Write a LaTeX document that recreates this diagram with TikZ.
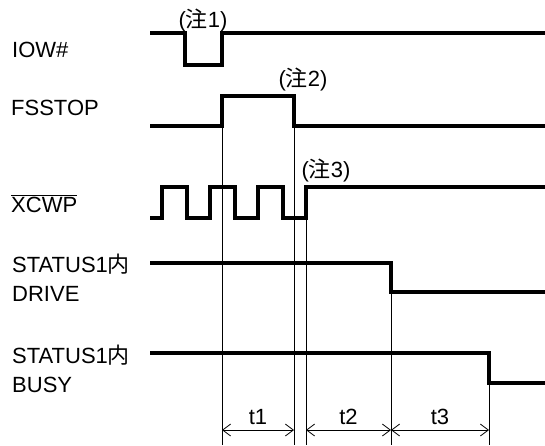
\documentclass[tikz,border=0pt]{standalone}
\usepackage{fontspec}
\setmainfont{Liberation Sans}
\newfontfamily\cjk{Noto Sans CJK JP}
\newcommand{\jp}[1]{{\cjk #1}}
\usetikzlibrary{arrows.meta}

\begin{document}
\begin{tikzpicture}[
    x=1pt, y=-1pt,
    every node/.style={font=\fontsize{22}{25}\selectfont, inner sep=0pt},
    sig/.style={anchor=base west},
    note/.style={anchor=base},
    wave/.style={line width=3.8pt, line join=miter},
    guide/.style={line width=0.8pt},
    span/.style={{Straight Barb[length=8pt,width=12pt]}-{Straight Barb[length=8pt,width=12pt]},
                 line width=0.8pt}
]
    \useasboundingbox (0,0) rectangle (545,445);

    % signal names
    \node[sig] (iow)    at (12,57)  {IOW\#};
    \node[sig] (fsstop) at (11,115) {FSSTOP};
    \node[sig] (xcwp)   at (11,212) {$\overline{\mbox{XCWP}}$};
    \node[sig] (drv1)   at (12,272) {STATUS1\jp{内}};
    \node[sig] (drv2)   at (12,301) {DRIVE};
    \node[sig] (bsy1)   at (12,363) {STATUS1\jp{内}};
    \node[sig] (bsy2)   at (12,392) {BUSY};

    % waveforms
    \draw[wave] (150,33) -- (185,33) -- (185,65) -- (222,65) -- (222,33) -- (545,33);
    \draw[wave] (150,126) -- (222,126) -- (222,96) -- (294,96) -- (294,126) -- (545,126);
    \draw[wave] (150,218) -- (162,218) -- (162,187) -- (187,187) -- (187,218)
        -- (210,218) -- (210,187) -- (235,187) -- (235,218)
        -- (258,218) -- (258,187) -- (283,187) -- (283,218)
        -- (306,218) -- (306,187) -- (545,187);
    \draw[wave] (150,263) -- (391,263) -- (391,292) -- (545,292);
    \draw[wave] (150,353) -- (489,353) -- (489,383) -- (545,383);

    % notes
    \node[note] (n1) at (203,27) {(\jp{注}1)};
    \node[note] (n2) at (303,86) {(\jp{注}2)};
    \node[note] (n3) at (326,177) {(\jp{注}3)};

    % edges and timing marks
    \coordinate (fsRise) at (222,96);
    \coordinate (fsFall) at (294,96);
    \coordinate (xcRise) at (306,187);
    \coordinate (drFall) at (391,263);
    \coordinate (bsFall) at (489,353);
    \foreach \e in {fsRise, fsFall, xcRise, drFall, bsFall}
        \draw[guide] (\e) -- (\e |- 0,445) coordinate (\e-end);

    \coordinate (a1) at (fsRise |- 0,430);
    \coordinate (a2) at (fsFall |- 0,430);
    \coordinate (a3) at (xcRise |- 0,430);
    \coordinate (a4) at (drFall |- 0,430);
    \coordinate (a5) at (bsFall |- 0,430);
    \draw[span] (a1) -- node[above=5pt] (t1) {t1} (a2);
    \draw[span] (a3) -- node[above=5pt] (t2) {t2} (a4);
    \draw[span] (a4) -- node[above=5pt] (t3) {t3} (a5);
\end{tikzpicture}
\end{document}
